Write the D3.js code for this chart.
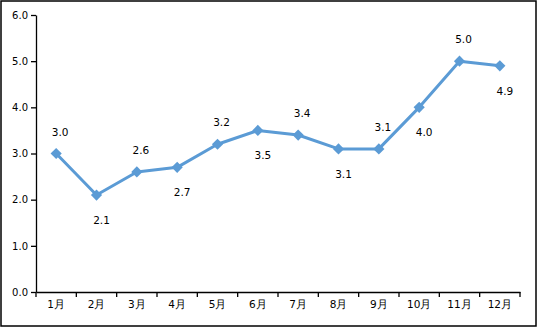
<!DOCTYPE html>
<html><head><meta charset="utf-8">
<script src="https://cdn.jsdelivr.net/npm/d3@7"></script>
<style>body{margin:0;background:#fff}svg{display:block}</style>
</head><body>
<script>
const categories = ["1月","2月","3月","4月","5月","6月","7月","8月","9月","10月","11月","12月"];
const values = [3.0,2.1,2.6,2.7,3.2,3.5,3.4,3.1,3.1,4.0,5.0,4.9];
const yTicks = [0,1,2,3,4,5,6];

const W = 538, H = 328;
const m = {l:36, r:18, t:15, b:36};
const svg = d3.select("body").append("svg").attr("width",W).attr("height",H);
svg.append("rect").attr("x",1).attr("y",1).attr("width",W-3).attr("height",H-3)
  .attr("fill","#fff").attr("stroke","#000").attr("stroke-width",1.5);

const x = d3.scaleBand().domain(categories).range([m.l, W-m.r]);
const y = d3.scaleLinear().domain([0,6]).range([H-m.b, m.t]);
const font = "'DejaVu Sans', Verdana, sans-serif";

const ya = svg.append("g").attr("transform",`translate(${m.l},0)`)
  .call(d3.axisLeft(y).tickValues(yTicks).tickFormat(d3.format(".1f")).tickSize(5).tickSizeOuter(0).tickPadding(3));
const xa = svg.append("g").attr("transform",`translate(0,${H-m.b})`)
  .call(d3.axisBottom(x).tickSize(0).tickPadding(9));
xa.selectAll(".bt").data(d3.range(categories.length+1)).enter().append("line")
  .attr("x1",i=>m.l+i*x.step()).attr("x2",i=>m.l+i*x.step()).attr("y1",0).attr("y2",5)
  .attr("stroke","#000");
[ya,xa].forEach(a=>{
  a.selectAll("path,line").attr("stroke","#000").attr("stroke-width",1.3);
  a.selectAll("text").attr("font-family",font).attr("font-size",10).attr("fill","#000");
});
xa.selectAll("text").attr("font-size",10.5);

const line = d3.line().x((d,i)=>x(categories[i])+x.bandwidth()/2).y(d=>y(d));
svg.append("path").datum(values).attr("d",line).attr("fill","none")
  .attr("stroke","#5B9BD5").attr("stroke-width",3).attr("stroke-linejoin","round");
svg.selectAll(".mk").data(values).enter().append("path")
  .attr("d",d3.symbol(d3.symbolDiamond2,80)())
  .attr("transform",(d,i)=>`translate(${x(categories[i])+x.bandwidth()/2},${y(d)})`)
  .attr("fill","#5B9BD5");
svg.selectAll(".lb").data(values).enter().append("text")
  .attr("x",(d,i)=>x(categories[i])+x.bandwidth()/2+(i%2?5:4))
  .attr("y",(d,i)=>y(d)+(i%2?29:-18))
  .attr("text-anchor","middle").attr("font-family",font).attr("font-size",10.5).attr("fill","#000")
  .text(d=>d3.format(".1f")(d));
</script>
</body></html>
